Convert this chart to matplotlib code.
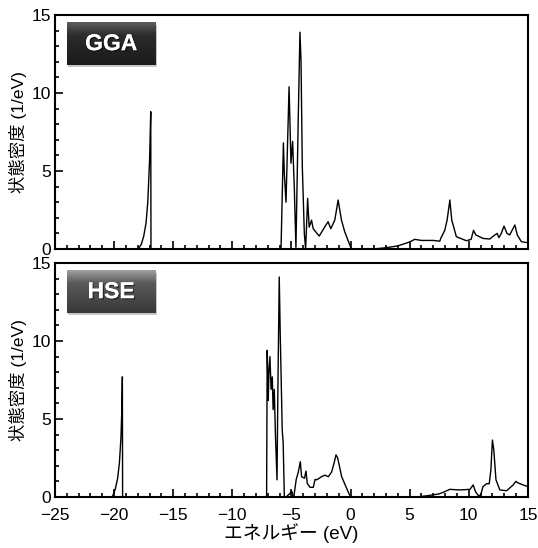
import numpy as np
import matplotlib
matplotlib.use("Agg")
import matplotlib.pyplot as plt
import matplotlib.patheffects as pe
from matplotlib.patches import Rectangle
from matplotlib.ticker import MultipleLocator

plt.rcParams['font.family'] = ['Liberation Sans', 'Noto Sans CJK JP']

# GGA density of states (energy in eV, DOS in 1/eV)
e_gga = [-25, -17.95, -17.7, -17.5, -17.3, -17.15, -17.0, -16.9, -16.88,
         -5.88, -5.68, -5.6, -5.46, -5.2, -5.04, -4.9, -4.76, -4.62,
         -4.42, -4.28, -4.19, -4.08, -3.91, -3.8, -3.63, -3.5, -3.3, -3.16,
         -2.65, -2.17, -1.9, -1.67, -1.33, -1.05, -0.77, -0.49, -0.12, 0.08,
         1.9, 3.0, 4.0, 5.0, 5.43, 6.0, 7.0, 7.55, 7.63, 7.97, 8.17, 8.4,
         8.56, 8.95, 9.8, 10.2, 10.4, 10.6, 11.2, 11.77, 12.2, 12.4, 12.55,
         12.75, 12.98, 13.23, 13.46, 13.9, 14.1, 14.45, 15.0]
dos_gga = [0, 0, 0.3, 0.8, 1.65, 3.0, 5.7, 8.8, 0,
           0, 6.8, 4.8, 3.0, 10.4, 5.5, 6.9, 4.0, 0.1,
           8.5, 13.9, 12.1, 5.3, 1.0, 0, 3.25, 1.4, 1.85, 1.3,
           0.83, 1.43, 1.75, 1.3, 1.86, 3.14, 1.86, 1.1, 0.37, 0,
           0, 0.08, 0.2, 0.45, 0.62, 0.55, 0.55, 0.5, 0.68, 1.2, 1.86, 3.14,
           1.86, 0.79, 0.53, 0.62, 1.2, 0.9, 0.68, 0.64, 0.9, 1.0, 0.73,
           1.0, 1.47, 1.0, 0.9, 1.54, 0.9, 0.47, 0.4]

# HSE density of states
e_hse = [-25, -20.15, -19.9, -19.7, -19.55, -19.42, -19.35, -19.3, -19.28,
         -7.1, -7.05, -6.96, -6.9, -6.82, -6.72, -6.62, -6.55, -6.45,
         -6.35, -6.22, -6.14, -6.03, -5.95, -5.86, -5.78, -5.7, -5.6, -5.45,
         -4.95, -4.88, -4.8, -4.6, -4.42, -4.25, -4.14, -3.9, -3.77, -3.66,
         -3.43, -3.15, -3.0, -2.87, -2.45, -2.17, -1.88, -1.6, -1.4, -1.23,
         -1.09, -0.75, -0.33, 0.0,
         5.6, 6.5, 7.5, 7.84, 8.4, 9.25, 10.1, 10.37, 10.57, 10.8, 11.0,
         11.2, 11.5, 11.73, 11.87, 12.0, 12.12, 12.3, 12.63, 13.2, 13.75,
         13.98, 14.18, 14.6, 15.0]
dos_hse = [0, 0, 0.5, 1.2, 2.2, 3.8, 5.5, 7.7, 0,
           0, 9.4, 6.2, 8.1, 9.0, 6.9, 7.7, 5.6, 6.9,
           3.9, 1.1, 7.3, 14.1, 10.5, 7.3, 4.3, 3.5, 0, 0,
           0.35, 0, 0, 1.1, 1.6, 2.26, 1.3, 1.2, 1.66, 0.87,
           0.62, 0.62, 1.13, 1.1, 1.3, 1.4, 1.3, 1.6, 2.16, 2.7,
           2.5, 1.3, 0.55, 0,
           0, 0.08, 0.2, 0.3, 0.49, 0.45, 0.49, 0.77, 0.34, 0.1, 0.1,
           0.66, 0.85, 0.85, 1.73, 3.65, 3.0, 1.1, 0.45, 0.4, 0.77,
           1.0, 0.9, 0.77, 0.66]

labels = ['GGA', 'HSE']
box_colors = [('#5e5e5e', '#2c2c2c', '#1a1a1a'), ('#a0a0a0', '#5a5a5a', '#383838')]

fig = plt.figure(figsize=(5.38, 5.48), dpi=100)
ax1 = fig.add_axes([0.1022, 0.5456, 0.879, 0.427])
ax2 = fig.add_axes([0.1022, 0.0931, 0.879, 0.427])

for ax, e, d, lab, cols in zip([ax1, ax2], [e_gga, e_hse], [dos_gga, dos_hse],
                               labels, box_colors):
    ax.plot(e, d, color='black', linewidth=1.0)
    ax.xaxis.set_major_locator(MultipleLocator(5))
    ax.xaxis.set_minor_locator(MultipleLocator(1))
    ax.yaxis.set_major_locator(MultipleLocator(5))
    ax.yaxis.set_minor_locator(MultipleLocator(1))
    ax.tick_params(which='both', direction='in', top=False, right=False,
                   labelsize=12.5, width=1.2)
    ax.tick_params(axis='x', pad=8)
    ax.tick_params(axis='y', pad=3)
    ax.tick_params(which='major', length=6)
    ax.tick_params(which='minor', length=3)
    for s in ax.spines.values():
        s.set_linewidth(1.5)
    ax.set_ylabel('状態密度 (1/eV)', fontsize=12.5, labelpad=3)

    # gradient label box
    x0, x1, y0, y1 = 0.025, 0.212, 0.787, 0.968
    sh = Rectangle((x0 + 0.003, y0 - 0.01), x1 - x0, y1 - y0,
                   transform=ax.transAxes, facecolor='#c8c8c8',
                   edgecolor='none', zorder=3)
    ax.add_patch(sh)
    c_top = np.array(matplotlib.colors.to_rgb(cols[0]))
    c_mid = np.array(matplotlib.colors.to_rgb(cols[1]))
    c_bot = np.array(matplotlib.colors.to_rgb(cols[2]))
    t = np.linspace(0, 1, 64)
    grad = np.where((t < 0.3)[:, None],
                    c_top * (1 - t[:, None] / 0.3) + c_mid * (t[:, None] / 0.3),
                    c_mid * (1 - (t[:, None] - 0.3) / 0.7) + c_bot * ((t[:, None] - 0.3) / 0.7))
    ax.imshow(grad[:, None, :], extent=(x0, x1, y0, y1), transform=ax.transAxes,
              aspect='auto', zorder=4, origin='upper')
    ax.text((x0 + x1) / 2, (y0 + y1) / 2, lab, transform=ax.transAxes,
            color='white', fontsize=16.5, fontweight='bold',
            ha='center', va='center', zorder=5,
            path_effects=[pe.withSimplePatchShadow(offset=(1, -1), shadow_rgbFace='black', alpha=0.5),
                          pe.Normal()])
    ax.set_xlim(-25, 15)
    ax.set_ylim(0, 15)

ax1.tick_params(labelbottom=False)
ax2.set_xlabel('エネルギー (eV)', fontsize=13.5, labelpad=0)

fig.savefig('out.png', dpi=100)
